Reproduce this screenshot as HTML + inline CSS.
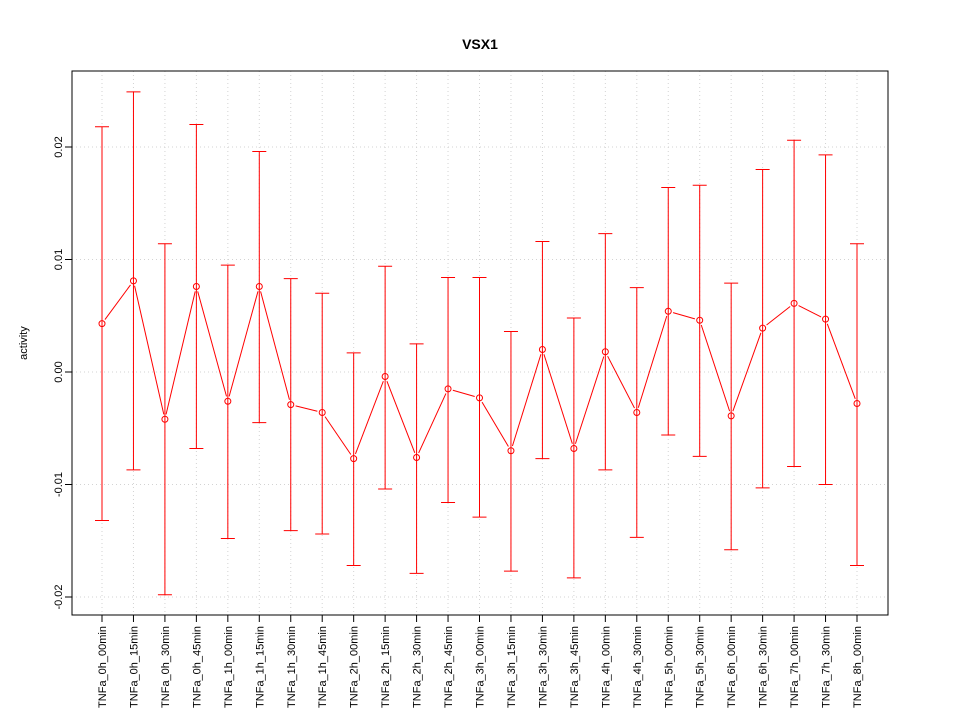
<!DOCTYPE html>
<html><head><meta charset="utf-8"><style>
body{margin:0;background:#fff}
svg{display:block;font-family:"Liberation Sans",sans-serif}
</style></head><body>
<svg id="chart" width="960" height="720">
<text x="480" y="49" text-anchor="middle" font-size="14" font-weight="bold">VSX1</text>
<text transform="translate(27,343) rotate(-90)" text-anchor="middle" font-size="11">activity</text>
<g id="grid"></g><g id="axes"></g><g id="marks"></g>
<rect x="72" y="71" width="816" height="544" fill="none" stroke="#000"/>
</svg>
<script>
const categories=["TNFa_0h_00min","TNFa_0h_15min","TNFa_0h_30min","TNFa_0h_45min","TNFa_1h_00min","TNFa_1h_15min","TNFa_1h_30min","TNFa_1h_45min","TNFa_2h_00min","TNFa_2h_15min","TNFa_2h_30min","TNFa_2h_45min","TNFa_3h_00min","TNFa_3h_15min","TNFa_3h_30min","TNFa_3h_45min","TNFa_4h_00min","TNFa_4h_30min","TNFa_5h_00min","TNFa_5h_30min","TNFa_6h_00min","TNFa_6h_30min","TNFa_7h_00min","TNFa_7h_30min","TNFa_8h_00min"];
const means=[0.0043,0.0081,-0.0042,0.0076,-0.0026,0.0076,-0.0029,-0.0036,-0.0077,-0.0004,-0.0076,-0.0015,-0.0023,-0.0070,0.0020,-0.0068,0.0018,-0.0036,0.0054,0.0046,-0.0039,0.0039,0.0061,0.0047,-0.0028];
const upper=[0.0218,0.0249,0.0114,0.0220,0.0095,0.0196,0.0083,0.0070,0.0017,0.0094,0.0025,0.0084,0.0084,0.0036,0.0116,0.0048,0.0123,0.0075,0.0164,0.0166,0.0079,0.0180,0.0206,0.0193,0.0114];
const lower=[-0.0132,-0.0087,-0.0198,-0.0068,-0.0148,-0.0045,-0.0141,-0.0144,-0.0172,-0.0104,-0.0179,-0.0116,-0.0129,-0.0177,-0.0077,-0.0183,-0.0087,-0.0147,-0.0056,-0.0075,-0.0158,-0.0103,-0.0084,-0.0100,-0.0172];
const yTicks=[-0.02,-0.01,0,0.01,0.02];
const yTickLabels=["-0.02","-0.01","0.00","0.01","0.02"];
const NS="http://www.w3.org/2000/svg";
const xs=i=>102+i*(857-102)/(categories.length-1);
const ys=v=>372-v*11250;
function mk(t,a,p){const e=document.createElementNS(NS,t);for(const k in a)e.setAttribute(k,a[k]);document.getElementById(p).appendChild(e);return e;}
yTicks.forEach((v,i)=>{
 let g=mk('line',{x1:72,x2:888,y1:ys(v),y2:ys(v),stroke:'#d3d3d3','stroke-dasharray':'1,3'},'grid');
 
 
 let t=mk('line',{x1:65,x2:72,y1:ys(v),y2:ys(v),stroke:'#000'},'axes');
 
 
 let l=mk('text',{transform:`translate(62,${ys(v)}) rotate(-90)`,'text-anchor':'middle','font-size':11},'axes');
 l.textContent=yTickLabels[i];
 
 
});
categories.forEach((c,i)=>{
 const x=xs(i);
 let g=mk('line',{x1:x,x2:x,y1:71,y2:615,stroke:'#d3d3d3','stroke-dasharray':'1,3'},'grid');
 
 
 let t=mk('line',{x1:x,x2:x,y1:615,y2:622,stroke:'#000'},'axes');
 
 
 let l=mk('text',{transform:`translate(${x+4},626) rotate(-90)`,'text-anchor':'end','font-size':11},'axes');
 l.textContent=c;
 
 
 let e=mk('path',{d:`M${x},${ys(upper[i])}V${ys(lower[i])}M${x-7},${ys(upper[i])}H${x+7}M${x-7},${ys(lower[i])}H${x+7}`,stroke:'red',fill:'none'},'marks');
 
 
 let p=mk('circle',{cx:x,cy:ys(means[i]),r:3,fill:'none',stroke:'red'},'marks');
 
 
 if(i>0){
  const x0=xs(i-1),y0=ys(means[i-1]),y1=ys(means[i]);
  const dx=x-x0,dy=y1-y0,L=Math.hypot(dx,dy),g2=5;
  if(L>2*g2){
   let s=mk('line',{x1:x0+dx*g2/L,y1:y0+dy*g2/L,x2:x-dx*g2/L,y2:y1-dy*g2/L,stroke:'red'},'marks');
   
   
  }
 }
});
</script>
</body></html>
